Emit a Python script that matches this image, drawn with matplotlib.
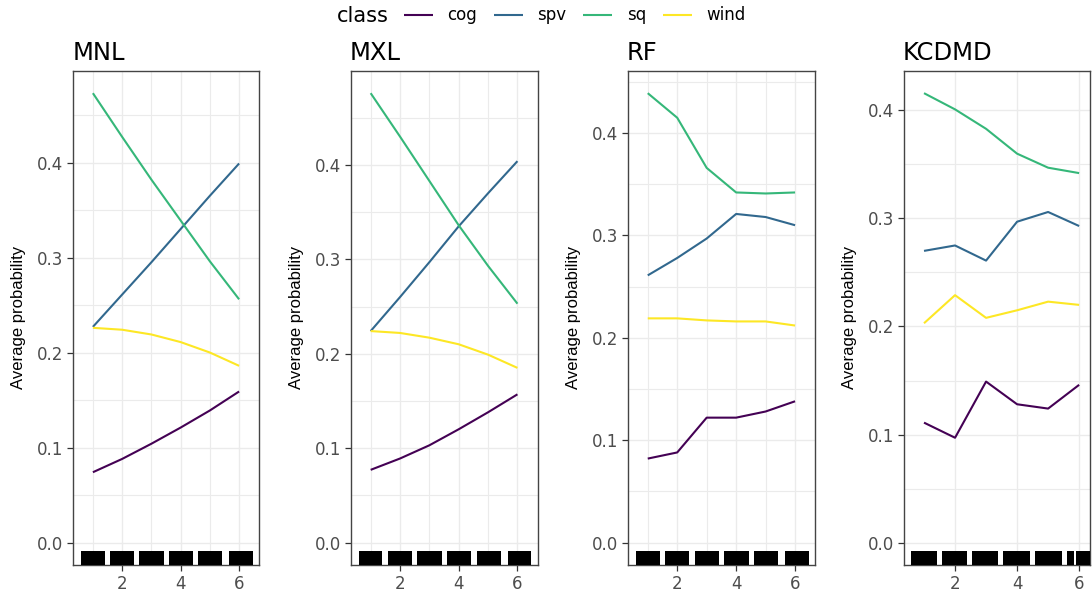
import matplotlib
matplotlib.use("Agg")
import matplotlib.pyplot as plt
import numpy as np

# ---------------- data ----------------
x_vals = [1, 2, 3, 4, 5, 6]
classes = ["cog", "spv", "sq", "wind"]
class_colors = ["#440154", "#31688E", "#35B779", "#FDE725"]
models = ["MNL", "MXL", "RF", "KCDMD"]

mnl_cog = [0.074, 0.088, 0.104, 0.121, 0.139, 0.159]
mnl_spv = [0.227, 0.261, 0.295, 0.330, 0.365, 0.399]
mnl_sq = [0.473, 0.427, 0.382, 0.339, 0.296, 0.256]
mnl_wind = [0.226, 0.224, 0.219, 0.211, 0.200, 0.186]

mxl_cog = [0.077, 0.089, 0.103, 0.120, 0.138, 0.157]
mxl_spv = [0.224, 0.260, 0.297, 0.335, 0.370, 0.404]
mxl_sq = [0.476, 0.430, 0.383, 0.336, 0.293, 0.253]
mxl_wind = [0.224, 0.222, 0.217, 0.210, 0.199, 0.185]

rf_cog = [0.082, 0.088, 0.122, 0.122, 0.128, 0.138]
rf_spv = [0.261, 0.278, 0.297, 0.321, 0.318, 0.310]
rf_sq = [0.439, 0.415, 0.366, 0.342, 0.341, 0.342]
rf_wind = [0.219, 0.219, 0.217, 0.216, 0.216, 0.212]

kc_cog = [0.111, 0.097, 0.149, 0.128, 0.124, 0.146]
kc_spv = [0.270, 0.275, 0.261, 0.297, 0.306, 0.293]
kc_sq = [0.416, 0.401, 0.383, 0.360, 0.347, 0.342]
kc_wind = [0.203, 0.229, 0.208, 0.215, 0.223, 0.220]

# rug (observed feature values, drawn as solid blocks)
rug_lo = [0.60, 1.58, 2.59, 3.59, 4.61, 5.67]
rug_hi = [1.40, 2.41, 3.42, 4.43, 5.43, 6.46]
rug_lo_kc = [0.57, 1.57, 2.54, 3.55, 4.58, 5.60, 5.90]
rug_hi_kc = [1.41, 2.38, 3.39, 4.42, 5.44, 5.84, 6.40]

x_ticks = [2, 4, 6]
x_minor = [1, 3, 5]
y_ticks = [0.0, 0.1, 0.2, 0.3, 0.4]

series = {
    "MNL": [mnl_cog, mnl_spv, mnl_sq, mnl_wind],
    "MXL": [mxl_cog, mxl_spv, mxl_sq, mxl_wind],
    "RF": [rf_cog, rf_spv, rf_sq, rf_wind],
    "KCDMD": [kc_cog, kc_spv, kc_sq, kc_wind],
}

# ---------------- layout ----------------
W, H = 1092, 592
fig = plt.figure(figsize=(W / 100, H / 100), dpi=100)
fig.patch.set_facecolor("white")

panel_x = [(73.3, 259.3), (351.0, 537.7), (628.0, 815.4), (904.0, 1090.0)]
panel_top, panel_bot = 70.7, 565.0
xlims = [(0.33, 6.69), (0.33, 6.69), (0.33, 6.69), (0.355, 6.35)]

tick_font = "DejaVu Sans"
label_font = "Liberation Sans"

handles = None
for i, m in enumerate(models):
    l, r = panel_x[i]
    ax = fig.add_axes([l / W, 1 - panel_bot / H, (r - l) / W, (panel_bot - panel_top) / H])
    lines = []
    for vals, c, name in zip(series[m], class_colors, classes):
        ln, = ax.plot(x_vals, vals, color=c, lw=1.5, label=name, zorder=4,
                      solid_capstyle="butt")
        lines.append(ln)
    if handles is None:
        handles = lines

    mx = max(max(v) for v in series[m])
    ax.set_ylim(-0.05 * mx, 1.05 * mx)
    ax.set_xlim(*xlims[i])

    # rug blocks
    if m == "KCDMD":
        los, his = rug_lo_kc, rug_hi_kc
    else:
        los, his = rug_lo, rug_hi
    for a, b in zip(los, his):
        ax.axvspan(a, b, ymin=0, ymax=0.029, color="black", lw=0, zorder=5)

    ax.set_xticks(x_ticks)
    ax.set_xticklabels([str(t) for t in x_ticks])
    if m != "KCDMD":
        ax.set_xticks(x_minor, minor=True)
    ax.set_yticks(y_ticks)
    ax.set_yticklabels([f"{t:.1f}" for t in y_ticks])
    ax.set_yticks(np.arange(0.05, 1.05 * mx, 0.1), minor=True)

    ax.grid(which="major", color="#EBEBEB", lw=1.0, zorder=0)
    ax.grid(which="minor", color="#EBEBEB", lw=0.8, zorder=0)
    ax.set_axisbelow(True)

    ax.tick_params(which="major", direction="out", length=4, width=0.9,
                   color="#333333", labelcolor="#4D4D4D", labelsize=12, pad=3)
    ax.tick_params(which="minor", length=0)
    for lab in ax.get_xticklabels() + ax.get_yticklabels():
        lab.set_family(tick_font)

    for sp in ax.spines.values():
        sp.set_color("#444444")
        sp.set_linewidth(1.0)

    ax.set_ylabel("Average probability", fontsize=12, family=label_font,
                  color="black")
    ax.yaxis.set_label_coords(-50 / (r - l), 0.5)
    ax.yaxis.label.set_va("baseline")

    ax.text(-0.005, 1 + 10.2 / (panel_bot - panel_top), m, transform=ax.transAxes,
            ha="left", va="baseline", fontsize=17.5, family=tick_font, color="black")

# ---------------- legend ----------------
fig.text(337 / W, 1 - 15.5 / H, "class", ha="left", va="center", fontsize=15,
         family=tick_font, color="black")
leg = fig.legend(handles, classes, ncol=4, loc="center left",
                 bbox_to_anchor=(404 / W, 1 - 15.5 / H), frameon=False,
                 handlelength=1.74, handletextpad=0.87, columnspacing=1.0,
                 borderpad=0, borderaxespad=0,
                 prop={"family": tick_font, "size": 12})
for t in leg.get_texts():
    t.set_color("black")

fig.savefig("out.png", dpi=100, facecolor="white")
